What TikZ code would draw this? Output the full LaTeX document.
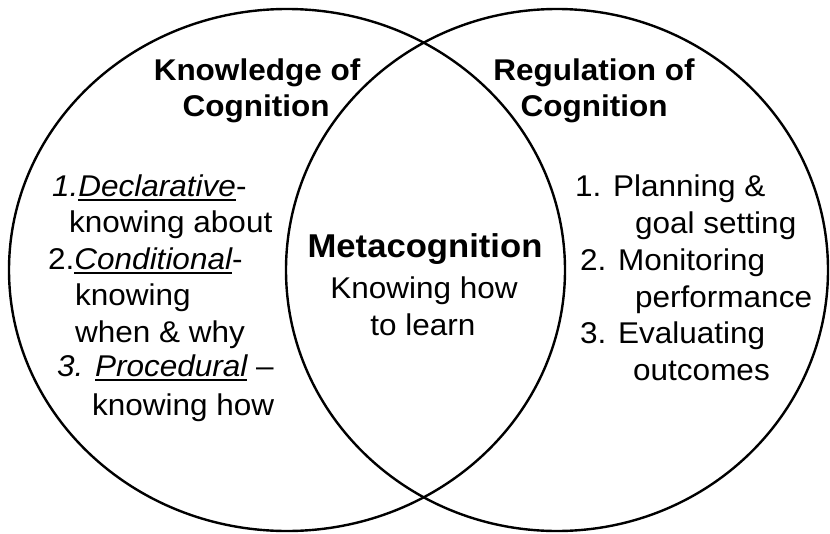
\documentclass[tikz,border=0pt]{standalone}
\usepackage{fontspec}
\setmainfont[FakeStretch=1.05]{Liberation Sans}
\newcommand\ulx[1]{\setbox0\hbox{#1}\rlap{\rule[-5pt]{\wd0}{2pt}}\box0}
\begin{document}
\begin{tikzpicture}[x=1pt,y=-1pt,
  ring/.style={draw=black,line width=2.4pt},
  head/.style={font=\fontsize{30}{36}\selectfont\bfseries,align=center,inner sep=0pt,anchor=base},
  big/.style={font=\fontsize{33}{36}\selectfont\bfseries,inner sep=0pt,anchor=base},
  txt/.style={font=\fontsize{30}{36}\selectfont,inner sep=0pt,anchor=base west},
  ctxt/.style={font=\fontsize{30}{36}\selectfont,inner sep=0pt,anchor=base}]
\useasboundingbox (0,0) rectangle (830,533);
\fill[white] (0,0) rectangle (830,533);
\draw[ring] (287,270) ellipse [x radius=278, y radius=261];
\draw[ring] (557,270) ellipse [x radius=271, y radius=261];
% headings
\node[head] (k1) at (257,80) {Knowledge of};
\node[head] (k2) at (256,116) {Cognition};
\node[head] (r1) at (594,80) {Regulation of};
\node[head] (r2) at (594,116) {Cognition};
% centre
\node[big] (m) at (425,257) {Metacognition};
\node[ctxt] (m1) at (424,298) {Knowing how};
\node[ctxt] (m2) at (423,335) {to learn};
% left list
\node[txt] (l1) at (52,196) {\itshape 1.\ulx{Declarative}\upshape-};
\node[txt] (l2) at (69,232.5) {knowing about};
\node[txt] (l3) at (48,269) {2.\itshape\ulx{Conditional}\upshape-};
\node[txt] (l4) at (75,305.5) {knowing};
\node[txt] (l5) at (75,342) {when \& why};
\node[txt] (l6) at (57,376) {\itshape 3. \ulx{Procedural}\upshape{} –};
\node[txt] (l7) at (92,415) {knowing how};
% right list
\node[txt] (p1) at (575,196) {1. Planning \&};
\node[txt] (p2) at (635,233) {goal setting};
\node[txt] (p3) at (580,270) {2. Monitoring};
\node[txt] (p4) at (635,307) {performance};
\node[txt] (p5) at (580,343) {3. Evaluating};
\node[txt] (p6) at (633,380) {outcomes};
\end{tikzpicture}
\end{document}
